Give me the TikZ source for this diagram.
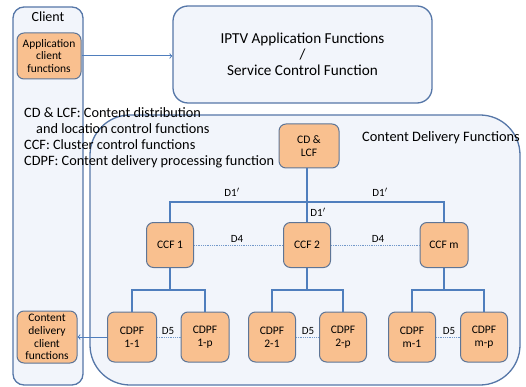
\documentclass[tikz,border=0pt]{standalone}
\usepackage{fontspec}
\setmainfont{Carlito}
\definecolor{boxline}{HTML}{5677A8}
\definecolor{boxfill}{HTML}{F2F5FB}
\definecolor{fnfill}{HTML}{F9C08F}
\definecolor{fnline}{HTML}{5E7596}
\definecolor{wire}{HTML}{4F7EBD}
\tikzset{
  area/.style={draw=boxline, fill=boxfill, line width=1.3pt},
  fn/.style={draw=fnline, fill=fnfill, line width=1pt, rounded corners=7pt,
    align=center, inner sep=1pt, font=\fontsize{11.5}{12.8}\selectfont},
  wire/.style={draw=wire, line width=1.5pt},
  peer/.style={draw=wire!80, line width=0.8pt, densely dotted},
  lbl/.style={font=\fontsize{11}{12}\selectfont, inner sep=1pt}
}
\begin{document}
\begin{tikzpicture}[x=1pt,y=-1pt]

\useasboundingbox (0,0) rectangle (526,387);

\node[area, rounded corners=11pt, minimum width=70, minimum height=378] (client) at (48,196) {};
\node[area, rounded corners=40pt, minimum width=430, minimum height=270] (cdf) at (305,250) {};
\node[area, rounded corners=15pt, minimum width=259, minimum height=97, align=center,
  font=\fontsize{15.2}{16}\selectfont] (iptv) at (302.5,54.5)
  {IPTV Application Functions\\/\\Service Control Function};

\node[font=\fontsize{14}{16}\selectfont] (clientlbl) at (48,17) {Client};
\node[font=\fontsize{14.4}{16}\selectfont] (cdflbl) at (441,138) {Content Delivery Functions};

\node[fn, minimum width=64, minimum height=46] (app) at (49,56) {Application\\client\\functions};
\node[fn, minimum width=60, minimum height=52] (cdcf) at (47,337) {Content\\delivery\\client\\functions};

\node[anchor=north west, align=left, inner sep=0pt,
  font=\fontsize{14.3}{16.2}\selectfont] (legend) at (24,107)
  {CD \& LCF: Content distribution\\
   \hspace*{12pt}and location control functions\\
   CCF: Cluster control functions\\
   CDPF: Content delivery processing function};

\node[fn, minimum width=60, minimum height=44] (cdlcf) at (309,146) {CD \&\\LCF};

\node[fn, minimum width=47, minimum height=45] (ccf1) at (170,245) {CCF 1};
\node[fn, minimum width=47, minimum height=45] (ccf2) at (307,245) {CCF 2};
\node[fn, minimum width=48, minimum height=45] (ccfm) at (444,245) {CCF m};

\node[fn, minimum width=49, minimum height=50] (cdpf11) at (132,337) {CDPF\\1-1};
\node[fn, minimum width=48, minimum height=50] (cdpf1p) at (205,337) {CDPF\\1-p};
\node[fn, minimum width=47, minimum height=50] (cdpf21) at (272,337) {CDPF\\2-1};
\node[fn, minimum width=47, minimum height=50] (cdpf2p) at (343,337) {CDPF\\2-p};
\node[fn, minimum width=47, minimum height=50] (cdpfm1) at (412,337) {CDPF\\m-1};
\node[fn, minimum width=47, minimum height=50] (cdpfmp) at (484,337) {CDPF\\m-p};

\coordinate (d1) at (307,202);
\coordinate (j1) at (170,290);
\coordinate (j2) at (307,290);
\coordinate (jm) at (444,290);

% CD & LCF to the clusters
\draw[wire] (cdlcf.south -| ccf2) -- (ccf2);
\draw[wire] (ccf1) |- (d1) -| (ccfm);

% clusters to their CDPFs
\draw[wire] (ccf1) -- (j1);
\draw[wire] (cdpf11) |- (j1) -| (cdpf1p);
\draw[wire] (ccf2) -- (j2);
\draw[wire] (cdpf21) |- (j2) -| (cdpf2p);
\draw[wire] (ccfm) -- (jm);
\draw[wire] (cdpfm1) |- (jm) -| (cdpfmp);

% peers
\draw[peer] (ccf1) -- (ccf2);
\draw[peer] (ccf2) -- (ccfm);
\draw[peer] (cdpf11) -- (cdpf1p);
\draw[peer] (cdpf21) -- (cdpf2p);
\draw[peer] (cdpfm1) -- (cdpfmp);

\node[lbl] (d1a) at (232,192) {D1$'$};
\node[lbl] (d1b) at (380,192) {D1$'$};
\node[lbl] (d1c) at (318,212) {D1$'$};
\node[lbl] (d4a) at (237,239) {D4};
\node[lbl] (d4b) at (378,239) {D4};
\node[lbl] (d5a) at (168,331) {D5};
\node[lbl] (d5b) at (308,331) {D5};
\node[lbl] (d5c) at (449,331) {D5};

\draw[->, draw=wire, line width=1pt] (app.east) -- (app.east -| iptv.west);
\draw[->, draw=wire, line width=1pt] (cdpf11) -- (cdcf);

\end{tikzpicture}
\end{document}
